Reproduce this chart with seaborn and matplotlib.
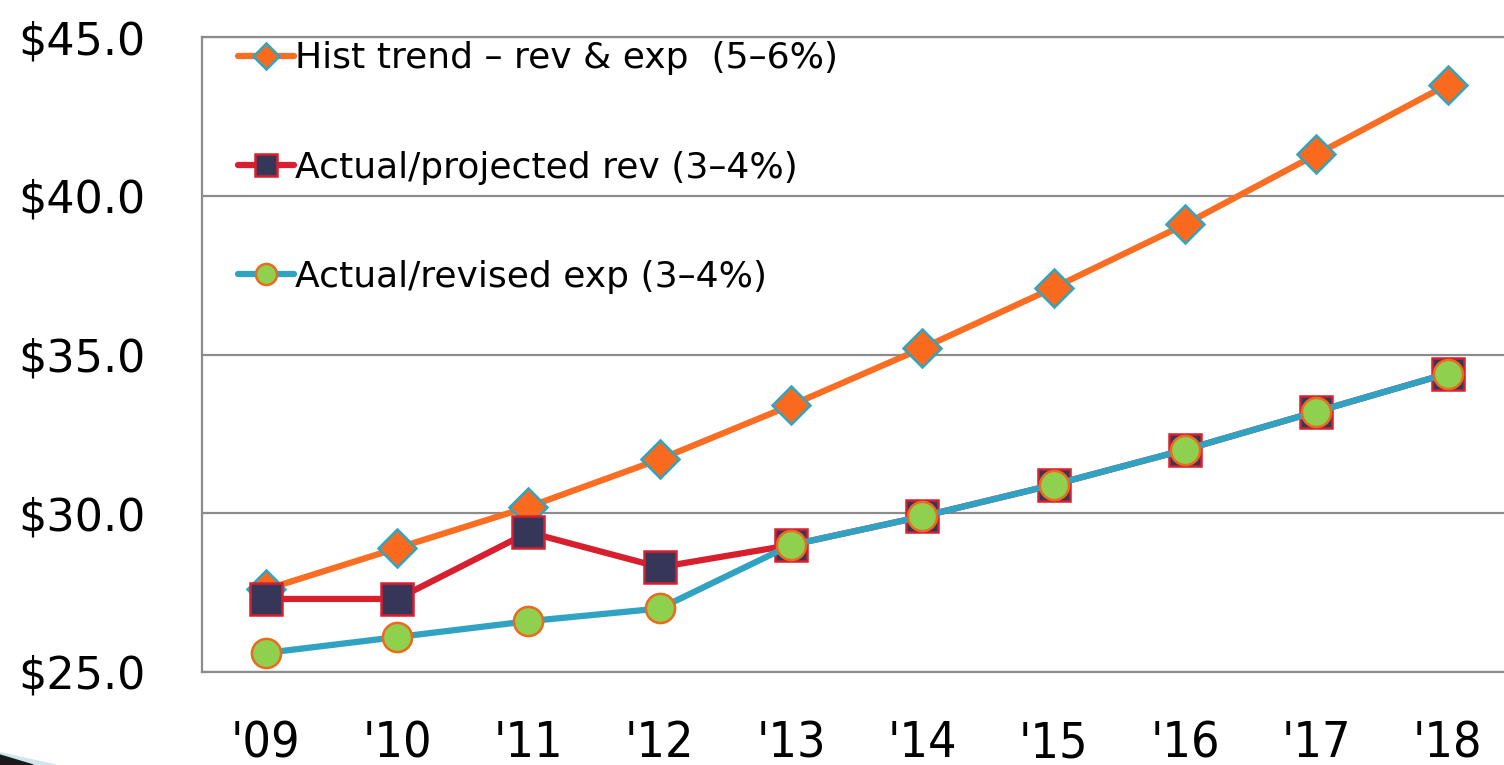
import matplotlib
matplotlib.use("Agg")
import matplotlib.pyplot as plt
from matplotlib.patches import Polygon
import numpy as np
import pandas as pd
import seaborn as sns

years = ["'09", "'10", "'11", "'12", "'13", "'14", "'15", "'16", "'17", "'18"]
hist_trend = [27.6, 28.9, 30.2, 31.7, 33.4, 35.2, 37.1, 39.1, 41.3, 43.5]
actual_rev = [27.3, 27.3, 29.4, 28.3, 29.0, 29.9, 30.9, 32.0, 33.2, 34.4]
actual_exp = [25.6, 26.1, 26.6, 27.0, 29.0, 29.9, 30.9, 32.0, 33.2, 34.4]
y_ticks = [25, 30, 35, 40, 45]

labels = ["Hist trend \u2013 rev & exp  (5\u20136%)",
          "Actual/projected rev (3\u20134%)",
          "Actual/revised exp (3\u20134%)"]

sns.set_style("white")
plt.rcParams['font.family'] = ['DejaVu Sans']
plt.rcParams['text.color'] = 'black'
plt.rcParams['xtick.color'] = 'black'
plt.rcParams['ytick.color'] = 'black'

fig = plt.figure(figsize=(15.04, 7.65), dpi=100)
ax = fig.add_axes([0.134, 0.1216, 0.866, 0.83])

# one frame per series, same x categories
styles = [
    dict(color="#FA6E23", marker="D", markersize=19, markerfacecolor="#FA6A1E",
         markeredgecolor="#2FA6C2", markeredgewidth=1.8),
    dict(color="#D81F2E", marker="s", markersize=23, markerfacecolor="#353658",
         markeredgecolor="#D81F2E", markeredgewidth=1.8),
    dict(color="#2FA3C1", marker="o", markersize=21, markerfacecolor="#8FD14F",
         markeredgecolor="#EB6A1E", markeredgewidth=1.8),
]
series = [hist_trend, actual_rev, actual_exp]
for vals, lab, st in zip(series, labels, styles):
    df = pd.DataFrame({"year": years, "value": vals})
    sns.lineplot(data=df, x="year", y="value", ax=ax, label=lab,
                 linewidth=4.5, sort=False, **st)

ax.set_xlim(-0.49, 9.43)
ax.set_ylim(25, 45)
ax.set_yticks(y_ticks)
ax.set_yticklabels(["${:.1f}".format(v) for v in y_ticks], fontsize=32)
ax.set_xticks(range(len(years)))
ax.set_xticklabels(years, fontsize=36, fontstretch='condensed',
                   family=['DejaVu Sans'])
ax.tick_params(axis='y', length=0, pad=40)
ax.tick_params(axis='x', length=0, pad=34)
ax.set_xlabel("")
ax.set_ylabel("")

ax.grid(axis='y', color="#8C8C8C", linewidth=1.6)
ax.set_axisbelow(True)
for side in ["left", "top", "bottom"]:
    ax.spines[side].set_color("#8C8C8C")
    ax.spines[side].set_linewidth(1.6)
ax.spines["right"].set_visible(False)

leg = ax.legend(loc="upper left", bbox_to_anchor=(0.0, 1.05), frameon=False,
                fontsize=26, labelspacing=2.08, handlelength=1.55,
                handletextpad=0.05, markerscale=0.72, borderaxespad=0.6)
for t in leg.get_texts():
    t.set_color("black")

# small slide-template swoosh in the bottom-left corner
fig.patches.append(Polygon([[0, 0.016], [0.037, 0], [0, 0]], closed=True,
                           transform=fig.transFigure, color="#CFE6EE"))
fig.patches.append(Polygon([[0, 0.013], [0.022, 0], [0, 0]], closed=True,
                           transform=fig.transFigure, color="#1A1A1A"))

fig.savefig("out.png", dpi=100)
